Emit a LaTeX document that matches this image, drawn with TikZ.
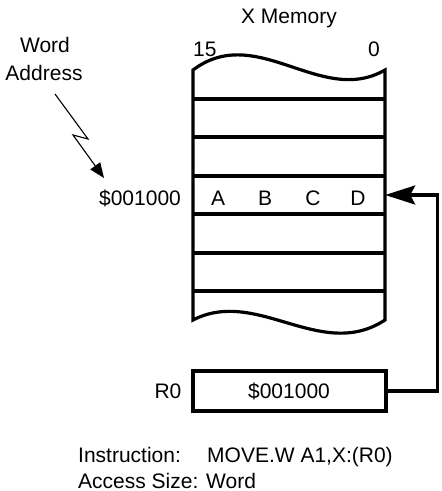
\documentclass[tikz,border=0pt]{standalone}
\usepackage{fontspec}
\setmainfont{Liberation Sans}
\usetikzlibrary{arrows.meta}
\begin{document}
\begin{tikzpicture}[x=1bp,y=-1bp,
  font=\fontsize{21bp}{25bp}\selectfont,
  thickline/.style={line width=3.2bp},
  thinline/.style={line width=1.1bp},
  txt/.style={inner sep=0pt, anchor=base},
  cell/.style={draw=none, inner sep=0pt, minimum width=192bp, minimum height=38bp}]
\useasboundingbox (0,0) rectangle (442,491);
% title and bit numbers
\node[txt] (title) at (289,24) {X Memory};
\node[txt, anchor=base west] (b15) at (193,57) {15};
\node[txt, anchor=base east] (b0) at (380,57) {0};
% memory outline
\draw[thickline] (193,70) .. controls (257,22) and (321,107) .. (385,70)
  -- (385,320) .. controls (321,362) and (257,287) .. (193,320) -- cycle;
\foreach \yy in {99,137,176,214,253,291}{
  \draw[thickline] (193,\yy) -- (385,\yy);
}
% addressed row
\node[cell] (row) at (289,195) {};
\node[txt] (ca) at (218,205) {A};
\node[txt] (cb) at (265,205) {B};
\node[txt] (cc) at (313,205) {C};
\node[txt] (cd) at (358,205) {D};
\node[txt] (addr) at (140,205) {\$001000};
% word address label with zigzag arrow
\node[txt] (word) at (45,53) {Word};
\node[txt] (address) at (44,81) {Address};
\coordinate (zs) at (55,94);
\coordinate (z1) at (88,139);
\coordinate (z2) at (73,135);
\coordinate (ze) at (104,178);
\draw[thinline, -{Triangle[length=15bp,width=12bp]}] (zs) -- (z1) -- (z2) -- (ze);
% R0 register
\node[draw, thickline, inner sep=0pt, minimum width=193bp, minimum height=40bp] (r0) at (289.5,391) {};
\node[txt] (r0val) at (289,398) {\$001000};
\node[txt] (r0lbl) at (168,398) {R0};
\coordinate (bend) at (437.5,391);
\draw[thickline, line join=miter, -{Stealth[length=30bp,width=19bp,inset=5bp]}] (r0.east) -- (bend) |- (row.east);
% instruction text
\node[txt, anchor=base west] (instr) at (78,462) {Instruction:};
\node[txt, anchor=base west] (move) at (207,462) {MOVE.W A1,X:(R0)};
\node[txt, anchor=base west] (acc) at (78,488) {Access Size: Word};
\end{tikzpicture}
\end{document}
